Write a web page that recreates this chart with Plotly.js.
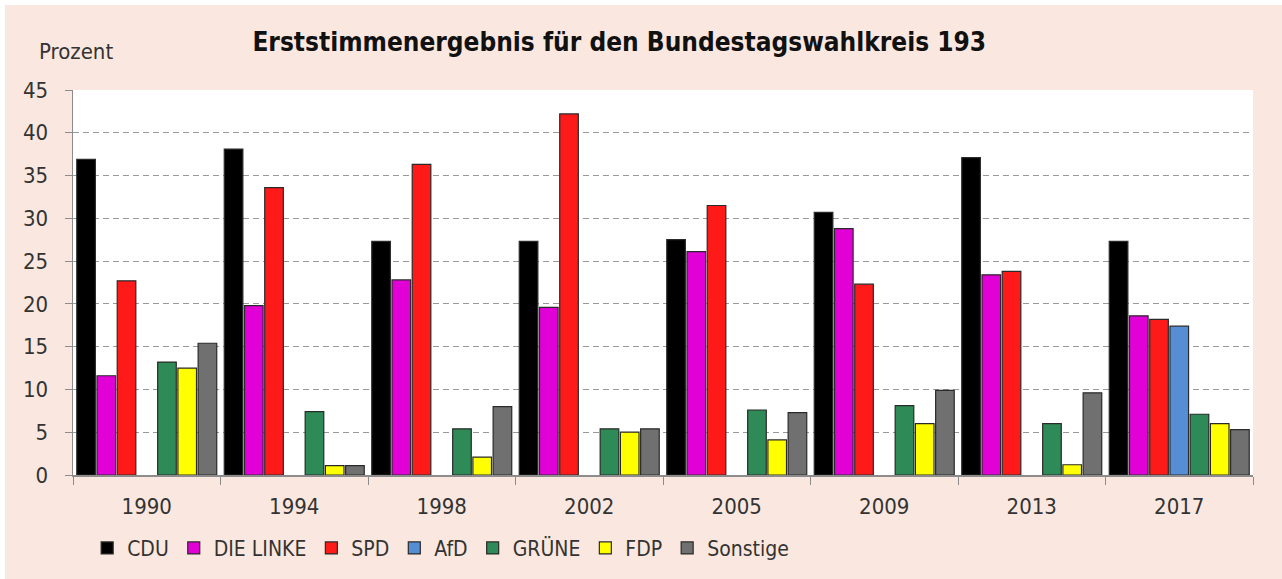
<!DOCTYPE html>
<html>
<head>
<meta charset="utf-8">
<script src="https://cdn.plot.ly/plotly-3.0.1.min.js"></script>
<style>
  html, body { margin: 0; padding: 0; background: #ffffff; }
  #chart { position: absolute; left: 5px; top: 5px; width: 1277px; height: 574px; }
</style>
</head>
<body>
<div id="chart"></div>
<script>
const years = ['1990', '1994', '1998', '2002', '2005', '2009', '2013', '2017'];
const cdu      = [36.9, 38.1, 27.3, 27.3, 27.5, 30.7, 37.1, 27.3];
const linke    = [11.6, 19.8, 22.8, 19.6, 26.1, 28.8, 23.4, 18.6];
const spd      = [22.7, 33.6, 36.3, 42.2, 31.5, 22.3, 23.8, 18.2];
const afd      = [null, null, null, null, null, null, null, 17.4];
const gruene   = [13.2, 7.4, 5.4, 5.4, 7.6, 8.1, 6.0, 7.1];
const fdp      = [12.5, 1.1, 2.1, 5.0, 4.1, 6.0, 1.2, 6.0];
const sonstige = [15.4, 1.1, 8.0, 5.4, 7.3, 9.9, 9.6, 5.3];

const seriesNames  = ['CDU', 'DIE LINKE', 'SPD', 'AfD', 'GRÜNE', 'FDP', 'Sonstige'];
const seriesValues = [cdu, linke, spd, afd, gruene, fdp, sonstige];
const seriesColors = ['#000000', '#E100D6', '#FF1A1A', '#558ED5', '#2E8B57', '#FFFF00', '#707070'];

const fontFam = '"DejaVu Sans Condensed", "Liberation Sans Narrow", sans-serif';
const textColor = '#333333';

const data = seriesNames.map((n, i) => ({
  type: 'bar',
  name: n,
  x: years,
  y: seriesValues[i],
  marker: { color: seriesColors[i], line: { color: '#2a2a2a', width: 1.2 } },
  hoverinfo: 'x+y+name'
}));

const layout = {
  width: 1277, height: 574,
  margin: { l: 68, r: 29, t: 85, b: 104, pad: 0, autoexpand: false },
  paper_bgcolor: '#FAE8E0',
  plot_bgcolor: '#FFFFFF',
  barmode: 'group',
  bargap: 0.04,
  bargroupgap: 0.08,
  font: { family: fontFam, size: 22, color: textColor },
  title: {
    text: '<b>Erststimmenergebnis für den Bundestagswahlkreis 193</b>',
    font: { family: fontFam, size: 26, color: '#111111' },
    xref: 'container', x: 0.481, xanchor: 'center',
    yref: 'container', y: 0.935, yanchor: 'middle'
  },
  xaxis: {
    type: 'category',
    tickson: 'boundaries',
    ticks: 'outside', ticklen: 8, tickcolor: '#8c8c8c', tickwidth: 1,
    showline: true, linecolor: '#8c8c8c', linewidth: 1.5,
    showgrid: false, zeroline: false, automargin: false,
    tickfont: { family: fontFam, size: 22, color: textColor },
    ticklabelstandoff: 11
  },
  yaxis: {
    range: [0, 45],
    tickvals: [0, 5, 10, 15, 20, 25, 30, 35, 40, 45],
    ticks: 'outside', ticklen: 7, tickcolor: '#8c8c8c', tickwidth: 1,
    showline: true, linecolor: '#8c8c8c', linewidth: 1.5,
    showgrid: true, gridcolor: '#9a9a9a', gridwidth: 1, griddash: '6px,4px',
    zeroline: false, automargin: false,
    tickfont: { family: fontFam, size: 22, color: textColor },
    ticklabelstandoff: 12
  },
  showlegend: true,
  legend: {
    orientation: 'h',
    x: 0.012, xanchor: 'left',
    y: -0.137, yanchor: 'top',
    font: { family: fontFam, size: 21, color: textColor },
    bgcolor: 'rgba(0,0,0,0)',
    itemwidth: 30,
    traceorder: 'normal'
  },
  annotations: [{
    text: 'Prozent',
    xref: 'paper', yref: 'paper',
    x: 0.0025, y: 1.1, xanchor: 'center', yanchor: 'middle',
    showarrow: false,
    font: { family: fontFam, size: 22, color: textColor }
  }]
};

Plotly.newPlot('chart', data, layout, { displayModeBar: false, staticPlot: true });
</script>
</body>
</html>
